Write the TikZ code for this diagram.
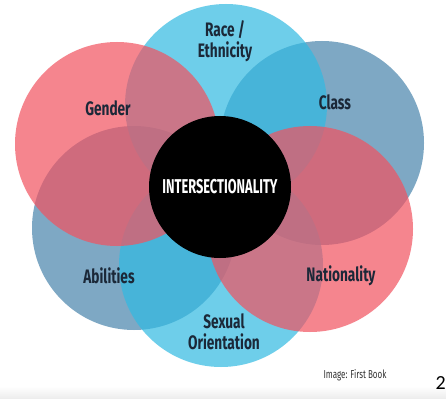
\documentclass[tikz,border=0pt]{standalone}
\usepackage{fontspec}
\setmainfont{Fira Sans}[FakeStretch=0.7]
\newfontfamily\hubfont{Fira Sans}[FakeStretch=0.64]
\newfontfamily\pagefont{Carlito}

\definecolor{rosefill}{RGB}{242,82,95}
\definecolor{skyfill}{RGB}{49,186,226}
\definecolor{slatefill}{RGB}{72,132,171}
\definecolor{inkblue}{RGB}{27,40,56}

\tikzset{
  petal/.style={fill opacity=0.7},
  tag/.style={text=inkblue, font=\fontsize{19.5}{21}\selectfont\bfseries, align=center},
}

\begin{document}
\begin{tikzpicture}[x=1pt,y=-1pt]
	\useasboundingbox (0,0) rectangle (446,398);
	\fill[white] (0,0) rectangle (446,398);
	\shade[top color=white,bottom color=black!7] (0,386) rectangle (446,398);
	% slate circles at the bottom, then sky, then rose
	\fill[petal,slatefill] (322,143) circle (102pt);
	\fill[petal,slatefill] (134,228) circle (102pt);
	\fill[petal,skyfill] (226,105) circle (101pt);
	\fill[petal,skyfill] (221,265) circle (102pt);
	\fill[petal,rosefill] (117,144) circle (102pt);
	\fill[petal,rosefill] (310,229) circle (103pt);
	% black hub
	\node[circle,fill=black,minimum size=142pt,inner sep=0pt] (hub) at (220,187) {};
	\node[text=white,font=\hubfont\bfseries\fontsize{20}{22}\selectfont] (inter) at (hub) {INTERSECTIONALITY};
	\node[tag] (race) at (225,41) {Race /\\Ethnicity};
	\node[tag] (gender) at (108,108) {Gender};
	\node[tag] (class) at (335,102) {Class};
	\node[tag] (abilities) at (109,276) {Abilities};
	\node[tag] (nation) at (341,276) {Nationality};
	\node[tag] (orient) at (224,332) {Sexual\\Orientation};
	\node[text=black!80,font=\fontsize{11.5}{13}\selectfont] (credit) at (355,375) {Image: First Book};
	\node[anchor=east,inner sep=0pt,font=\pagefont\fontsize{20}{22}\selectfont] (pageno) at (446,383) {2};
\end{tikzpicture}
\end{document}
